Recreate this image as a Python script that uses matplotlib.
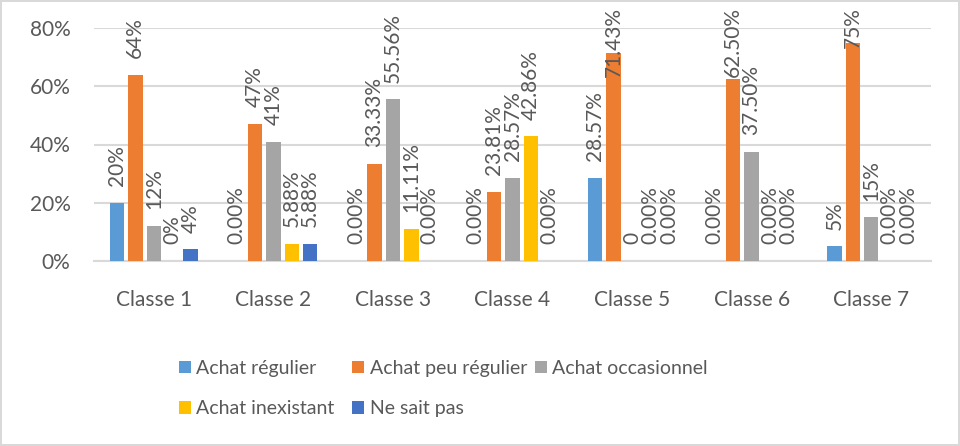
import numpy as np
import matplotlib.pyplot as plt

plt.rcParams['font.family'] = ['Lato', 'DejaVu Sans']

classes = ['Classe 1', 'Classe 2', 'Classe 3', 'Classe 4', 'Classe 5', 'Classe 6', 'Classe 7']
series = ['Achat régulier', 'Achat peu régulier', 'Achat occasionnel', 'Achat inexistant', 'Ne sait pas']
colors = ['#5B9BD5', '#ED7D31', '#A5A5A5', '#FFC000', '#4472C4']

regulier = [0.20, 0.0, 0.0, 0.0, 0.2857, 0.0, 0.05]
peu_regulier = [0.64, 0.47, 0.3333, 0.2381, 0.7143, 0.625, 0.75]
occasionnel = [0.12, 0.41, 0.5556, 0.2857, 0.0, 0.375, 0.15]
inexistant = [0.0, 0.0588, 0.1111, 0.4286, 0.0, 0.0, 0.0]
ne_sait_pas = [0.04, 0.0588, 0.0, 0.0, 0.0, 0.0, 0.0]

lab_regulier = ['20%', '0.00%', '0.00%', '0.00%', '28.57%', '0.00%', '5%']
lab_peu_regulier = ['64%', '47%', '33.33%', '23.81%', '71.43%', '62.50%', '75%']
lab_occasionnel = ['12%', '41%', '55.56%', '28.57%', '0', '37.50%', '15%']
lab_inexistant = ['0%', '5.88%', '11.11%', '42.86%', '0.00%', '0.00%', '0.00%']
lab_ne_sait_pas = ['4%', '5.88%', '0.00%', '0.00%', '0.00%', '0.00%', '0.00%']

yticks = [0, 0.2, 0.4, 0.6, 0.8]
ytick_labels = ['0%', '20%', '40%', '60%', '80%']

values = [regulier, peu_regulier, occasionnel, inexistant, ne_sait_pas]
labels = [lab_regulier, lab_peu_regulier, lab_occasionnel, lab_inexistant, lab_ne_sait_pas]

txt = '#595959'
fs = 15

fig = plt.figure(figsize=(9.6, 4.46), dpi=100)
fig.patch.set_edgecolor('#D9D9D9')
fig.patch.set_linewidth(1.5)
ax = fig.add_axes([94 / 960, 1 - 261 / 446, 837 / 960, 233 / 446])

x = np.arange(len(classes))
step = 0.154
width = 0.121
handles = []
annots = []
for i, (vals, labs) in enumerate(zip(values, labels)):
    bars = ax.bar(x + (i - 2) * step, vals, width, color=colors[i], label=series[i], zorder=3)
    annots += ax.bar_label(bars, labels=labs, rotation=90, padding=12, color=txt, fontsize=fs, clip_on=False)
    handles.append(bars)

ax.set_xlim(-0.5, len(classes) - 0.5)
ax.set_ylim(0, 0.8)
ax.set_yticks(yticks)
ax.set_yticklabels(ytick_labels)
ax.set_xticks(x)
ax.set_xticklabels(classes)
ax.tick_params(axis='both', length=0, labelsize=fs, labelcolor=txt)
ax.tick_params(axis='y', pad=17)
ax.tick_params(axis='x', pad=21)
ax.grid(axis='y', color='#D9D9D9', linewidth=1.5, zorder=0)
for s in ['top', 'right', 'left']:
    ax.spines[s].set_visible(False)
ax.spines['bottom'].set_color('#D9D9D9')
ax.spines['bottom'].set_linewidth(1.5)

# legend laid out in three fixed columns, row by row like Excel
columns = [[0, 3], [1, 4], [2]]
col_x = [179, 352, 535]
for idx, cx in zip(columns, col_x):
    fig.legend([handles[k] for k in idx], [series[k] for k in idx],
               loc='upper left', bbox_to_anchor=(cx / 960, 1 - 360 / 446),
               frameon=False, fontsize=14, labelcolor=txt,
               handlelength=0.6, handleheight=0.6, handletextpad=0.3,
               labelspacing=1.2, borderpad=0, borderaxespad=0)

# keep data labels inside the chart area, like Excel does
fig.canvas.draw()
r = fig.canvas.get_renderer()
top_limit = 446 - 7
for t in annots:
    bb = t.get_window_extent(r)
    if bb.y1 > top_limit:
        ox, oy = t.xyann
        t.xyann = (ox, oy - (bb.y1 - top_limit) * 72 / 100)

fig.savefig('out.png', dpi=100)
